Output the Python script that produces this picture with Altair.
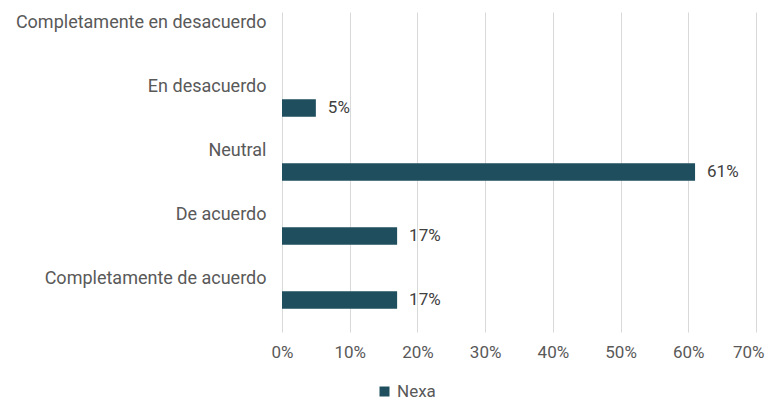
import altair as alt
import pandas as pd

categories = ["Completamente en desacuerdo", "En desacuerdo", "Neutral", "De acuerdo", "Completamente de acuerdo"]
values = [0.0, 0.05, 0.61, 0.17, 0.17]
series = "Nexa"

df = pd.DataFrame({"cat": categories, "val": values, "serie": [series] * len(categories)})

FONT = "Roboto"
y_enc = alt.Y("cat:N", sort=categories, title=None,
              scale=alt.Scale(paddingInner=0.73, paddingOuter=0.365),
              axis=alt.Axis(labelOffset=-21, labelPadding=16, ticks=False, domain=False,
                            labelFont=FONT, labelFontSize=18, labelColor="#595959",
                            labelLimit=400))
x_enc = alt.X("val:Q", title=None,
              scale=alt.Scale(domain=[0, 0.7]),
              axis=alt.Axis(format=".0%", values=[0, 0.1, 0.2, 0.3, 0.4, 0.5, 0.6, 0.7],
                            ticks=False, domain=False, grid=True, gridColor="#d9d9d9",
                            labelFlush=False,
                            labelAlign=alt.condition("datum.value >= 0.69", alt.value("right"), alt.value("center")),
                            labelOffset=alt.condition("datum.value >= 0.69", alt.value(8), alt.value(0)),
                            labelFont=FONT, labelFontSize=17, labelColor="#595959",
                            labelPadding=12))

bars = alt.Chart(df).mark_bar(color="#1f4e5f").encode(
    x=x_enc, y=y_enc,
    color=alt.Color("serie:N", scale=alt.Scale(range=["#1f4e5f"]),
                    legend=alt.Legend(title=None, orient="none", legendX=94, legendY=371,
                                      symbolType="square", symbolSize=100,
                                      labelFont=FONT, labelFontSize=17, labelColor="#595959"))
)
labels = alt.Chart(df).transform_filter("datum.val > 0").mark_text(
    align="left", dx=12, font=FONT, fontSize=17, color="#404040"
).encode(x="val:Q", y=alt.Y("cat:N", sort=categories), text=alt.Text("val:Q", format=".0%"))

chart = (bars + labels).properties(
    width=474, height=320,
    padding={"left": 274, "top": 4, "right": 9, "bottom": 69},
    autosize=alt.AutoSizeParams(type="none")
).configure_view(stroke=None)

chart.save("out.html", embed_options={"renderer": "svg", "actions": False})
